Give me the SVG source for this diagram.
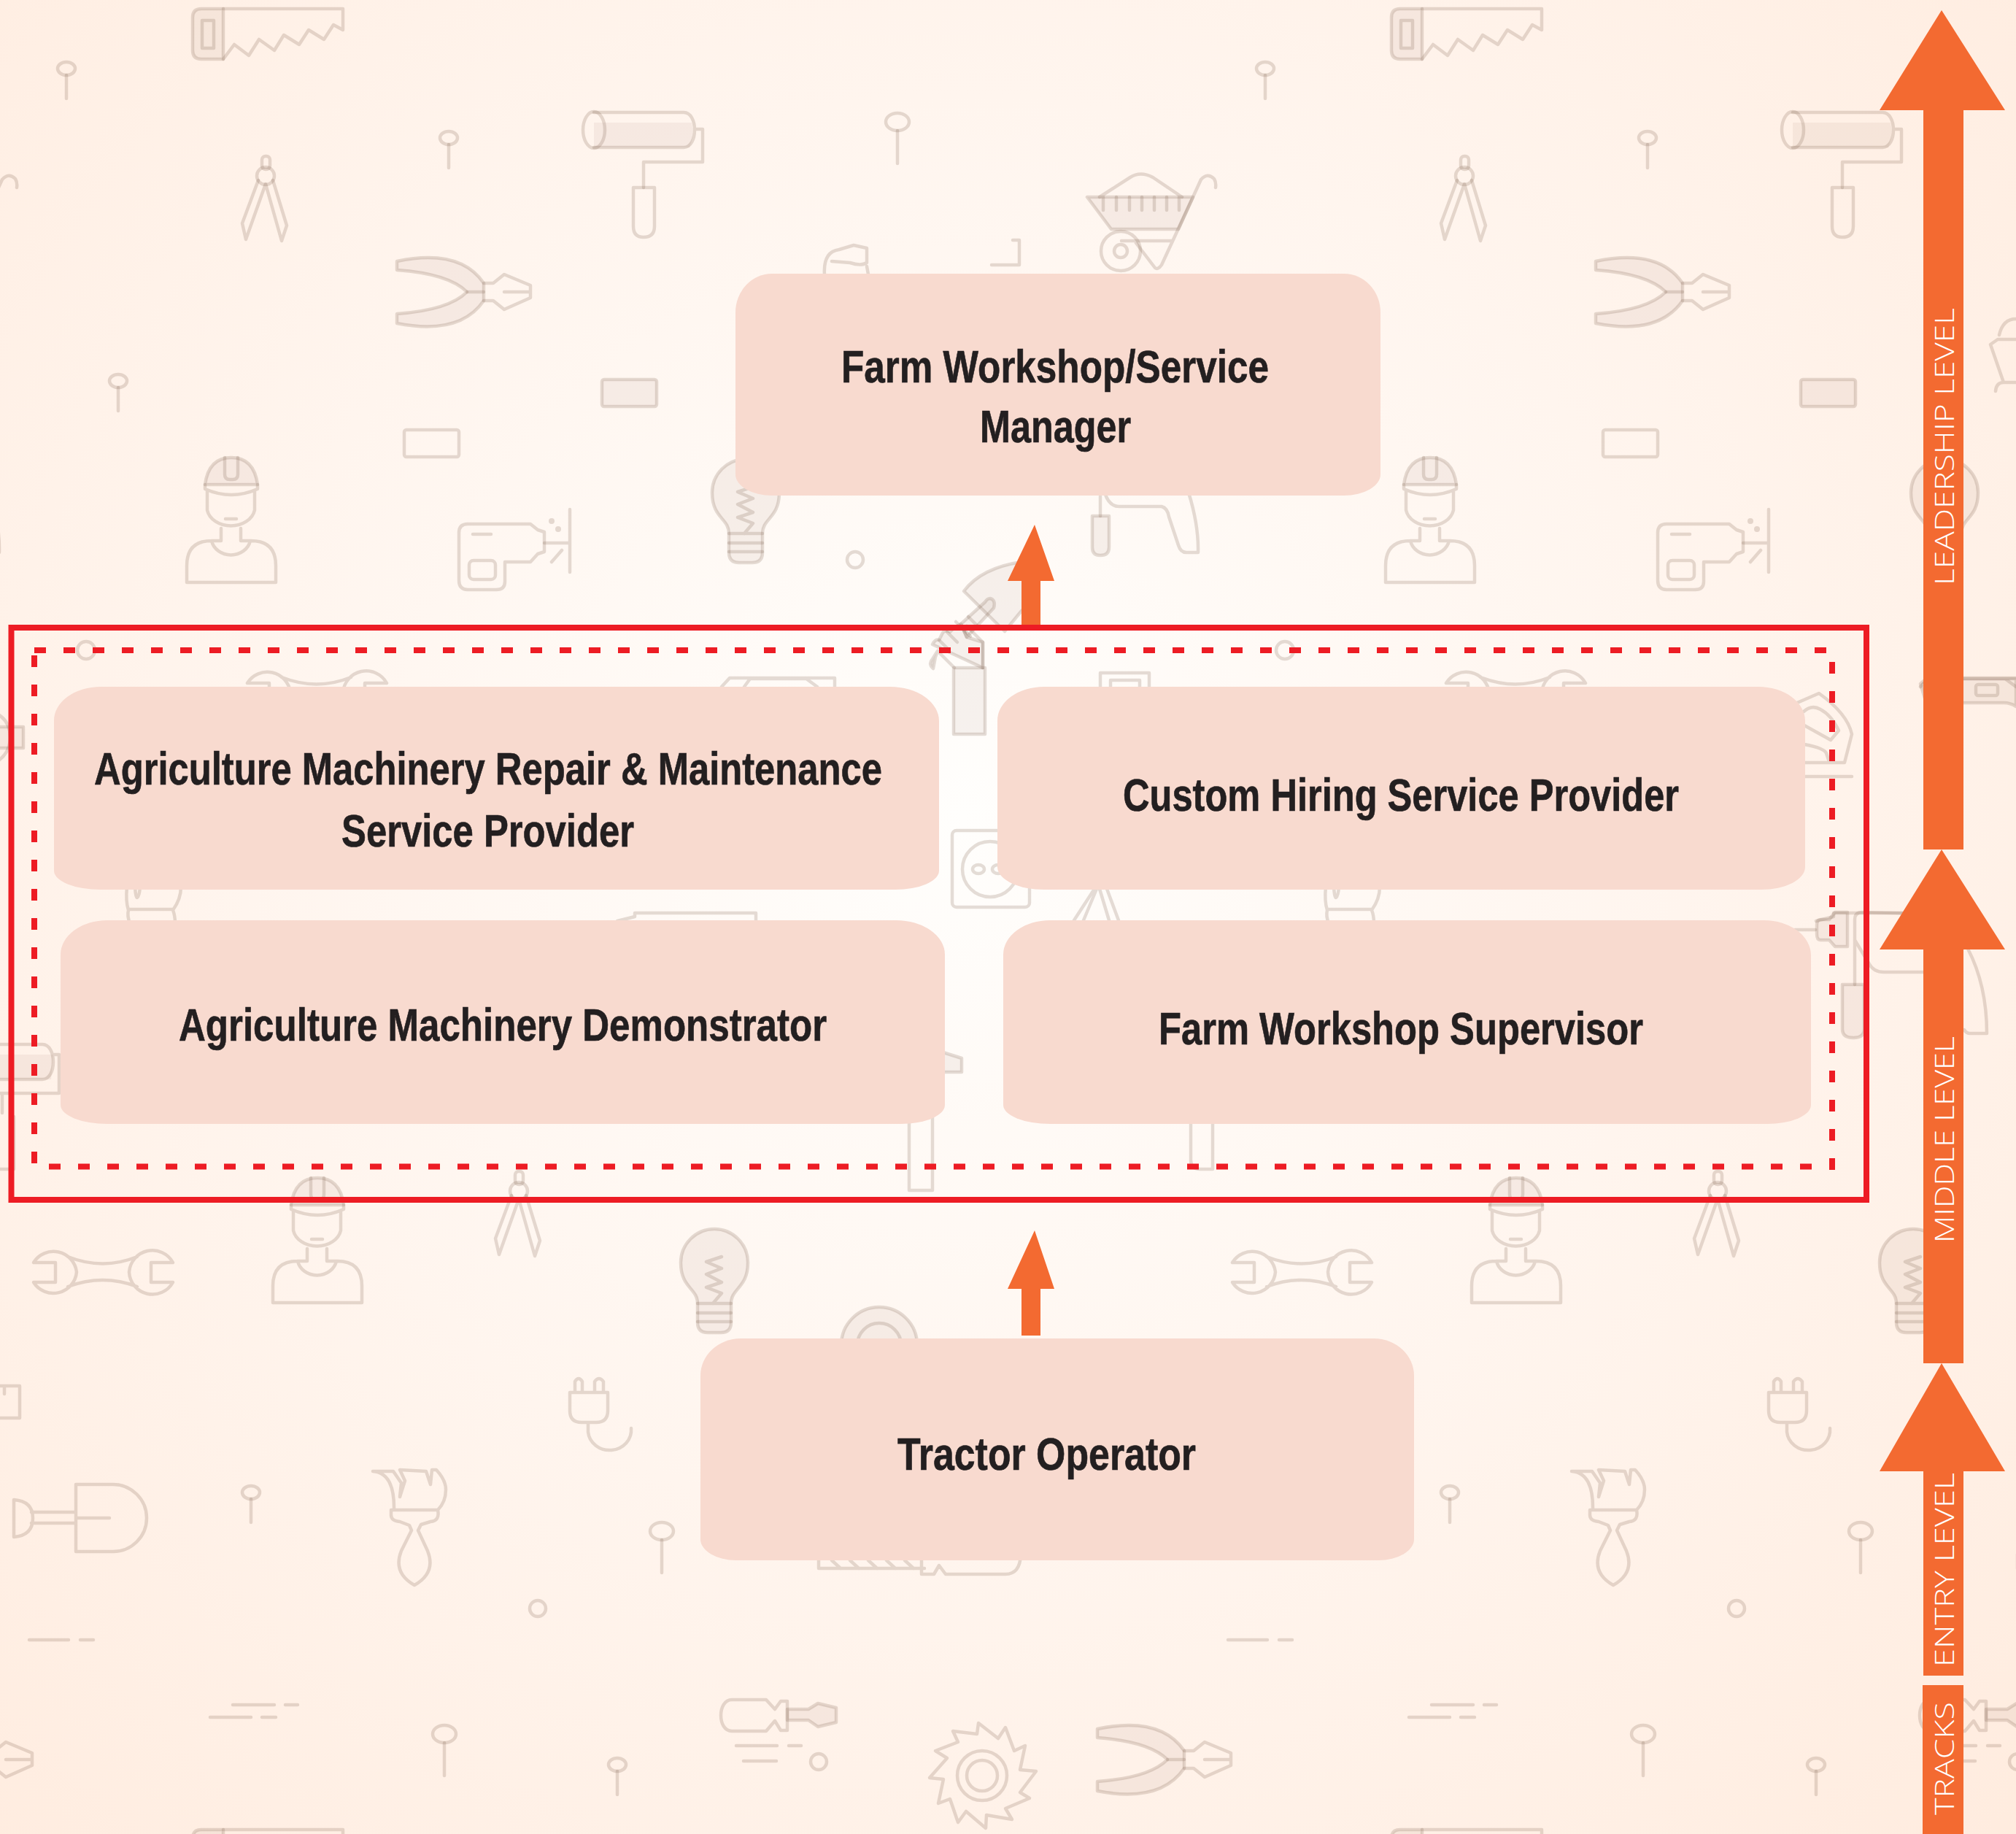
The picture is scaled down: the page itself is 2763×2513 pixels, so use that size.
<svg xmlns="http://www.w3.org/2000/svg" width="2763" height="2513" viewBox="0 0 2763 2513">
<style>
.i{fill:none;stroke:#7a5c48;stroke-opacity:.2;stroke-width:4.5;stroke-linecap:round;stroke-linejoin:round}
.f{fill:#7a5c48;fill-opacity:.07}
.box{fill:#f8dacf}
.t{font-family:"Liberation Sans",Arial,sans-serif;font-weight:700;font-size:63px;fill:#231f20;stroke:#231f20;stroke-width:.7}
.s{font-family:"Open Sans","Liberation Sans",sans-serif;font-weight:300;font-size:36px;fill:#fff}
.arrow{fill:#f36a31}
.dash{fill:none;stroke:#ed1c24;stroke-width:8;stroke-dasharray:16 24}
</style>
<defs>
<radialGradient id="bg" gradientUnits="userSpaceOnUse" cx="1320" cy="1120" r="1980">
<stop offset="0" stop-color="#fffefc"/><stop offset=".5" stop-color="#fff5ee"/><stop offset="1" stop-color="#ffecdf"/>
</radialGradient>
<g id="pin"><ellipse cx="0" cy="0" rx="12" ry="9" class="i"/><path class="i" d="M0 9V41"/></g>
<g id="pinb"><ellipse cx="0" cy="0" rx="16" ry="12" class="i"/><path class="i" d="M0 12V57"/></g>
<g id="saw"><path class="i f" d="M306 12H276Q264 12 264 24V69Q264 81 276 81H306Z"/><rect class="i" x="277" y="28" width="16" height="38"/><path class="i" d="M306 12H470V41L457 34L444 54L423 41L410 61L389 48L376 69L355 54L341 76L321 61L306 81"/></g>
<g id="compass"><rect class="i" x="359" y="214" width="11" height="18" rx="5"/><circle class="i" cx="364" cy="241" r="12"/><path class="i" d="M354 247L332 306L337 328L364 252L386 330L393 309L374 247"/></g>
<g id="worker"><path class="i f" d="M281 664Q286 627 317 627Q348 627 353 664Z"/><path class="i" d="M308 627V650Q308 657 315 657H319Q326 657 326 650V627M281 664V670Q317 686 353 670V664M284 672V699A33 26 0 0 0 349 699V672M309 711H324M303 724V741H290Q256 741 256 775V798H378V775Q378 741 344 741H330V724M290 741A27 24 0 0 0 343 741"/></g>
<g id="bulb"><path class="i f" d="M956 1786C956 1765 933 1765 933 1730A46 46 0 0 1 1025 1730C1025 1765 1002 1765 1002 1786V1812Q1002 1826 988 1826H970Q956 1826 956 1812Z"/><path class="i" d="M989 1722L968 1729L989 1738L968 1746L989 1757L968 1764L989 1772L977 1786M956 1786H1002M956 1799H1002M956 1811H1002"/></g>
<g id="wrench"><path class="i" d="M46 1730H76V1757H46A32 32 0 0 0 105 1743A32 32 0 0 0 46 1730ZM237 1730H207V1757H237A32 32 0 0 1 177 1743A32 32 0 0 1 237 1730ZM93 1722Q141 1741 188 1722M93 1763Q141 1745 188 1763"/></g>
<g id="pliers"><path class="i f" d="M544 358Q630 340 663 388V412Q630 460 544 443V430Q615 425 640 400Q615 375 544 370Z"/><path class="i" d="M640 400H663M663 388H676L691 376L727 391V408L691 424L676 412H663M691 400H727"/></g>
<g id="tile">
<use href="#saw"/>
<use href="#pin" x="91" y="94"/><use href="#pin" x="615" y="189"/><use href="#pin" x="162" y="522"/><use href="#pinb" x="1230" y="167"/>
<use href="#pin" x="344" y="2045"/><use href="#pinb" x="907" y="2098"/><use href="#pinb" x="609" y="2376"/><use href="#pin" x="846" y="2418"/>
<use href="#compass"/><use href="#compass" x="347" y="1391"/>
<path class="f" d="M814 168H948Q952 185 945 202H814Z"/>
<path class="i" d="M814 154H937C957 154 957 202 937 202H814M953 177H963V222H882V257"/><ellipse class="i" cx="814" cy="178" rx="15" ry="25"/><path class="i" d="M868 257H897V310Q897 325 882 325Q868 325 868 310Z"/>
<use href="#pliers"/><use href="#pliers" x="960" y="2011"/>
<rect class="i f" x="825" y="520" width="75" height="37" rx="3"/><rect class="i" x="554" y="589" width="75" height="37" rx="3"/>
<use href="#worker"/><use href="#worker" x="118" y="987"/>
<path class="i" d="M641 718H727L737 726L746 729V756L737 759L727 770H692V797Q692 808 680 808H641Q629 808 629 795V730Q629 718 641 718Z"/><rect class="i" x="643" y="768" width="36" height="26" rx="6"/><path class="i" d="M648 732H673M746 744H781M781 698V784M770 754L756 770"/><circle cx="756" cy="714" r="4" fill="#7a5c48" fill-opacity=".2"/><circle cx="765" cy="725" r="4" fill="#7a5c48" fill-opacity=".2"/>
<use href="#bulb"/><use href="#bulb" x="43" y="-1055"/>
<use href="#wrench"/><use href="#wrench" x="293" y="-794"/>
<path class="i" d="M104 2034V2126H155A46 46 0 0 0 155 2034ZM105 2080H150M43 2072H104M43 2087H104M19 2055V2106Q45 2104 45 2080Q45 2057 19 2055Z"/>
<path class="i" d="M511 2016H539L550 2032L548 2051L555 2029L548 2014L584 2016L590 2034L592 2014H598Q611 2028 611 2041Q611 2058 600 2069H536M511 2016Q541 2018 540 2069M536 2069V2076Q536 2084 548 2085L561 2090L564 2097L550 2125Q538 2155 568 2172Q598 2155 586 2125L573 2097L577 2089L590 2085Q603 2084 600 2069"/>
<path class="i" d="M174 1215Q172 1235 176 1247Q174 1255 178 1265M185 1215Q186 1230 188 1230Q191 1228 192 1215M248 1215Q248 1232 237 1247Q240 1255 240 1265M176 1246H237"/>
<path class="i" d="M781 1908H833V1933Q833 1949 817 1949H797Q781 1949 781 1933ZM788 1908V1893Q793 1885 798 1893V1908M815 1908V1893Q821 1885 827 1893V1908M806 1949V1962A29 27 0 0 0 865 1957"/>
<circle class="i" cx="737" cy="2204" r="11"/><circle class="i" cx="1172" cy="767" r="11"/><circle class="i" cx="118" cy="891" r="12"/><circle class="i" cx="1122" cy="2414" r="11"/>
<path class="i" d="M40 2247H94M110 2247H128M319 2336H376M391 2336H408M288 2353H344M359 2353H378M1009 2392H1065M1081 2392H1098M1019 2413H1064"/>
<path class="i" d="M-20 1899H27V1943H-20M6 1899V1910"/>
<path class="i" d="M1003 2329H1050L1062 2342L1070 2331H1079V2371H1070L1062 2358L1050 2372H1003C983 2372 983 2329 1003 2329Z"/><path class="i f" d="M1079 2342H1108L1121 2334L1146 2340V2360L1121 2366L1108 2357H1079Z"/>
<path class="i" d="M1341 2361L1368 2382L1378 2367L1390 2399L1405 2392L1398 2425L1420 2427L1398 2456L1411 2464L1378 2478L1387 2493L1352 2487L1351 2505L1324 2482L1313 2497L1302 2465L1286 2471L1293 2438L1274 2436L1298 2409L1282 2399L1313 2387L1306 2372L1339 2376Z"/><circle class="i" cx="1346" cy="2433" r="34"/><circle class="i" cx="1346" cy="2433" r="21"/>
<path class="i" d="M1122 2130V2149H1267M1140 2138L1152 2149M1165 2138L1177 2149M1190 2138L1202 2149M1215 2138L1227 2149M1240 2138L1252 2149M1263 2130V2157H1280L1287 2145L1296 2157H1378Q1398 2157 1399 2130"/>
<circle class="i f" cx="1205" cy="1843" r="52"/><circle class="i" cx="1205" cy="1843" r="30"/>
<path class="i f" d="M1490 270H1635L1615 314H1523Z"/>
<path class="i" d="M1507 270L1549 243Q1563 234 1580 243L1620 270M1512 270V288M1530 270V288M1548 270V288M1565 270V288M1582 270V288M1599 270V288M1616 270V288M1537 330H1606M1635 270L1646 246Q1655 236 1664 245Q1667 250 1666 257M1635 270L1592 363Q1587 370 1583 367L1557 333"/><circle class="i" cx="1536" cy="344" r="27"/><circle class="i" cx="1536" cy="344" r="9"/>
<path class="i" d="M1130 376Q1128 345 1150 342L1170 336L1188 340V360Q1180 365 1165 360L1140 358M1188 365L1190 376M1359 363H1397V329H1388"/>
<path class="i f" d="M1497 707H1520V750Q1520 761 1508 761Q1497 761 1497 750Z"/><path class="i" d="M1508 680V707M1514 675Q1520 694 1534 694H1592Q1600 696 1602 708L1615 747Q1618 757 1626 757H1642Q1643 720 1629 675"/>
<path class="i f" d="M1321 810Q1345 778 1400 770L1412 800Q1412 830 1400 837L1377 865Z"/>
<path class="i f" d="M1350 825L1317 855L1325 873L1362 833Q1365 822 1357 820Q1353 820 1350 825Z"/>
<path class="i" d="M1347 880V915M1347 880L1325 858M1327 845L1342 860M1310 852L1330 872"/>
<path class="i f" d="M1308 915L1285 892L1278 903Q1272 910 1279 916L1282 900Q1283 898 1285 892M1278 883Q1282 875 1287 877L1292 867Q1296 862 1302 866L1308 860L1317 855L1325 873L1347 880V915Z"/>
<path class="i" d="M1287 877L1300 890M1298 866L1312 880"/>
<path class="i f" d="M1307 915H1350V1006H1307Z"/>
<rect class="i" x="1305" y="1138" width="106" height="105" rx="6"/><ellipse class="i" cx="1357" cy="1191" rx="38" ry="38"/><ellipse class="i" cx="1341" cy="1191" rx="8" ry="6"/><ellipse class="i" cx="1368" cy="1191" rx="8" ry="6"/>
<path class="i" d="M1472 1261L1500 1218M1485 1261L1503 1218M1507 1218L1520 1261M1517 1218L1533 1261M1508 941V922H1575V941M1522 941V932H1562V941"/>
<path class="i f" d="M1280 1438L1318 1450V1469H1280Z"/>
<path class="i" d="M1246 1530V1631H1278V1530"/>
<path class="i" d="M1632 1530V1590Q1632 1602 1645 1602H1662V1530"/>
<path class="i" d="M989 941L1000 929H1144V941M1020 941L1028 930H1105L1120 941"/>
<path class="i" d="M846 1262L870 1256V1251H1036V1262"/>
</g>
</defs>
<rect id="background" width="2763" height="2513" fill="url(#bg)"/>
<g id="icons">
<use href="#tile" x="-1643"/><use href="#tile"/><use href="#tile" x="1643"/>
<use href="#saw" y="2495"/><use href="#saw" x="1643" y="2495"/>
<path class="f" d="M-10 1445H73L70 1479H-10Z"/>
<path class="i" d="M-10 1431H58C78 1431 78 1479 58 1479H-10M72 1445H81V1498H-10M3 1499V1525"/>
<path class="i f" d="M-10 996H32V1025H-10Z"/><path class="i" d="M-10 975Q14 985 14 1010Q14 1035 -10 1047"/>
<path class="i" d="M2740 459Q2745 437 2763 437M2763 465H2738L2728 472L2746 524H2763M2735 536Q2736 524 2746 524"/>
<path class="i f" d="M2632 937L2640 930H2763V968Q2755 963 2747 963H2640Z"/><rect class="i" x="2708" y="938" width="30" height="15" rx="3"/>
<path class="i" d="M2463 963L2493 950Q2532 978 2538 1006L2528 1045H2474M2474 1064H2538M2472 975Q2483 965 2495 972Q2510 980 2520 1001L2509 1014L2473 994M2473 1020Q2500 1025 2503 1032L2507 1044"/>
<path class="i f" d="M2532 1250H2515L2507 1260H2495Q2490 1260 2490 1268V1280Q2490 1288 2495 1288H2507L2515 1297H2532Z"/><path class="i" d="M2460 1274H2488"/>
<path class="i f" d="M2525 1349H2555V1410Q2555 1422 2540 1422Q2525 1422 2525 1410Z"/>
<path class="i" d="M2542 1349V1260Q2542 1250 2552 1250L2640 1252M2542 1288L2562 1321Q2568 1332 2582 1332H2640M2697 1300Q2723 1350 2723 1416H2700Q2695 1416 2692 1411"/>
</g>
<g id="connectors">
<path class="arrow" id="arrow-middle-manager" d="M1418 719L1445 796H1426V860H1400V796H1381Z"/>
<path class="arrow" id="arrow-tractor-middle" d="M1418 1686L1445 1766H1426V1830H1400V1766H1381Z"/>
</g>
<g id="group-frame">
<rect x="15.5" y="860" width="2542.5" height="784" fill="none" stroke="#ed1c24" stroke-width="8"/>
<path class="dash" d="M47 891H2503"/><path class="dash" d="M67 1598.5H2483"/><path class="dash" d="M47 898V1594"/><path class="dash" d="M2511 907V1603"/>
</g>
<g id="node-manager"><path class="box" d="M1058 375H1842A50 53 0 0 1 1892 428V650A50 29 0 0 1 1842 679H1058A50 29 0 0 1 1008 650V428A50 53 0 0 1 1058 375Z"/>
<text class="t" x="1153" y="524" textLength="586" lengthAdjust="spacingAndGlyphs">Farm Workshop/Service</text>
<text class="t" x="1343" y="606" textLength="207" lengthAdjust="spacingAndGlyphs">Manager</text></g>
<g id="node-repair"><path class="box" d="M138 941H1220A67 47 0 0 1 1287 988V1193A60 26 0 0 1 1227 1219H138A64 26 0 0 1 74 1193V987A64 46 0 0 1 138 941Z"/>
<text class="t" x="129" y="1075" textLength="1080" lengthAdjust="spacingAndGlyphs">Agriculture Machinery Repair &amp; Maintenance</text>
<text class="t" x="468" y="1160" textLength="401" lengthAdjust="spacingAndGlyphs">Service Provider</text></g>
<g id="node-custom"><path class="box" d="M1431 941H2410A64 47 0 0 1 2474 988V1188A60 31 0 0 1 2414 1219H1431A64 31 0 0 1 1367 1188V987A64 46 0 0 1 1431 941Z"/>
<text class="t" x="1539" y="1111" textLength="762" lengthAdjust="spacingAndGlyphs">Custom Hiring Service Provider</text></g>
<g id="node-demonstrator"><path class="box" d="M147 1261H1228A67 47 0 0 1 1295 1308V1514A60 26 0 0 1 1235 1540H147A64 26 0 0 1 83 1514V1308A64 47 0 0 1 147 1261Z"/>
<text class="t" x="245" y="1426" textLength="888" lengthAdjust="spacingAndGlyphs">Agriculture Machinery Demonstrator</text></g>
<g id="node-supervisor"><path class="box" d="M1439 1261H2418A64 48 0 0 1 2482 1309V1514A60 26 0 0 1 2422 1540H1439A64 26 0 0 1 1375 1514V1308A64 47 0 0 1 1439 1261Z"/>
<text class="t" x="1588" y="1431" textLength="664" lengthAdjust="spacingAndGlyphs">Farm Workshop Supervisor</text></g>
<g id="node-tractor"><path class="box" d="M1015 1834H1883A55 51 0 0 1 1938 1885V2109A49 29 0 0 1 1889 2138H1009A49 29 0 0 1 960 2109V1885A55 51 0 0 1 1015 1834Z"/>
<text class="t" x="1230" y="2014" textLength="409" lengthAdjust="spacingAndGlyphs">Tractor Operator</text></g>
<g id="tracks">
<path class="arrow" d="M2661 14L2748 151H2691V1164H2636V151H2576Z"/>
<path class="arrow" d="M2661 1164L2748 1301H2691V1868H2636V1301H2576Z"/>
<path class="arrow" d="M2661 1868L2748 2016H2691V2296H2636V2016H2576Z"/>
<rect class="arrow" x="2635" y="2309" width="56" height="204"/>
<text class="s" transform="translate(2678 802) rotate(-90)" textLength="380" lengthAdjust="spacingAndGlyphs">LEADERSHIP LEVEL</text>
<text class="s" transform="translate(2678 1703) rotate(-90)" textLength="283" lengthAdjust="spacingAndGlyphs">MIDDLE LEVEL</text>
<text class="s" transform="translate(2678 2284) rotate(-90)" textLength="266" lengthAdjust="spacingAndGlyphs">ENTRY LEVEL</text>
<text class="s" transform="translate(2678 2487) rotate(-90)" textLength="155" lengthAdjust="spacingAndGlyphs">TRACKS</text>
</g>
</svg>
